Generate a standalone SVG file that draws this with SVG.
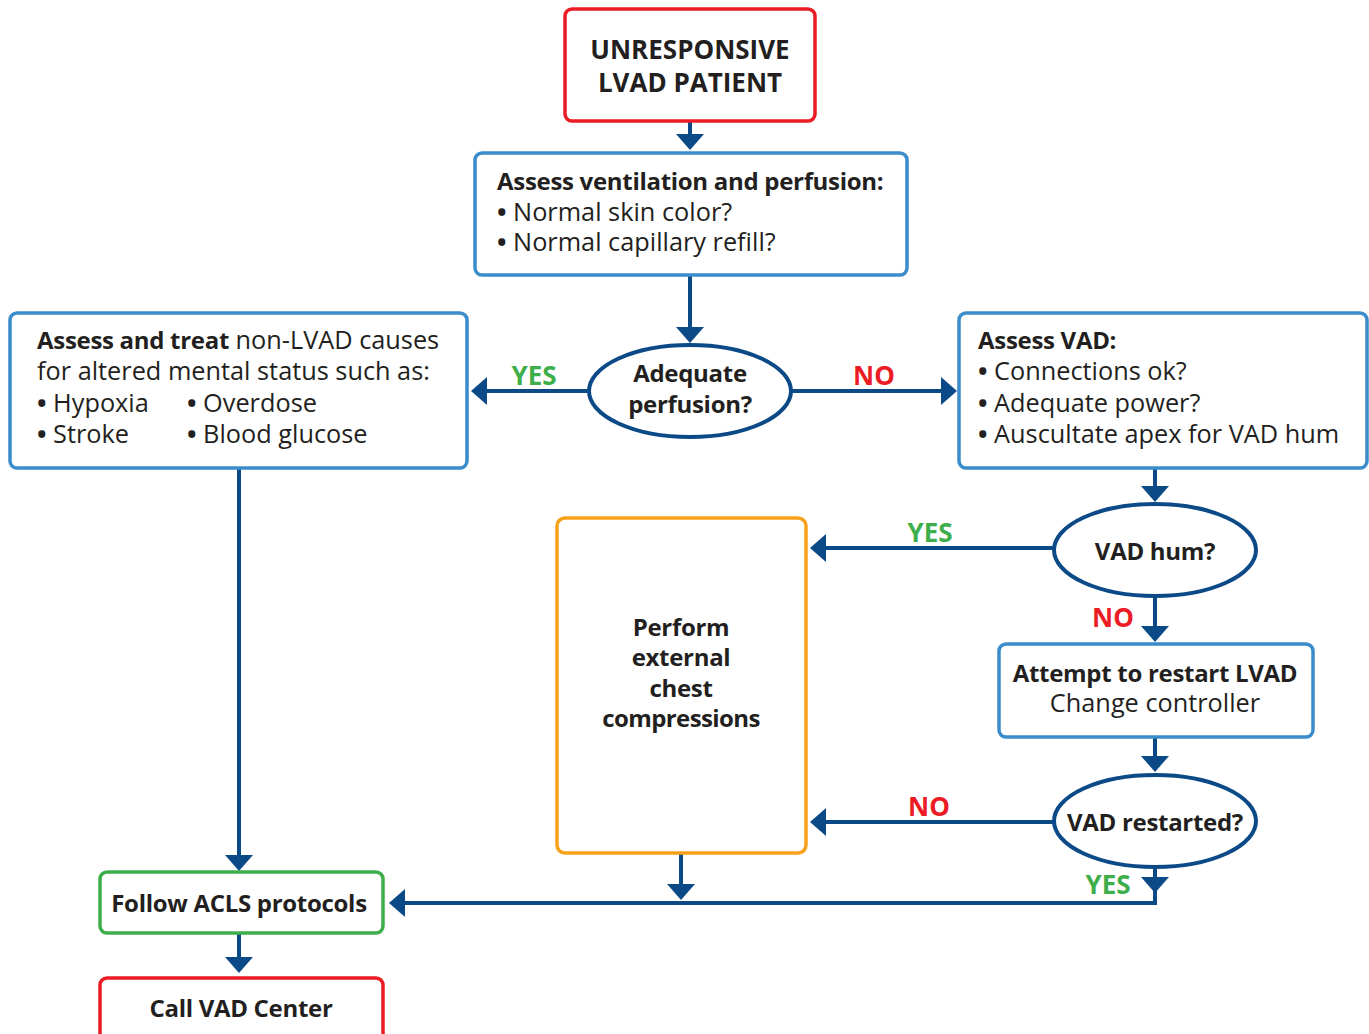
<svg xmlns="http://www.w3.org/2000/svg" width="1369" height="1034" viewBox="0 0 1369 1034">
<defs>
<marker id="arr" viewBox="0 0 16 28" refX="2" refY="14" markerWidth="16" markerHeight="28" markerUnits="userSpaceOnUse" orient="auto">
<path d="M0,0 L16,14 L0,28 z" fill="#0B4A87"/>
</marker>
<style>
text{font-family:"Open Sans","Noto Sans","Liberation Sans",sans-serif;fill:#231F20;font-size:25.3px}
.b{font-weight:bold;font-size:24px;letter-spacing:-0.3px}
.h{font-weight:bold;font-size:26px}
.c{text-anchor:middle}
.bu{font-weight:bold}
.box{fill:#fff;stroke-width:3.5}
.red{stroke:#EC1C24}
.blue{stroke:#3A8DCA}
.green{stroke:#3DAE4A}
.orange{stroke:#F7A11A}
.dec{fill:#fff;stroke:#0B4A87;stroke-width:4}
.con{fill:none;stroke:#0B4A87;stroke-width:4;marker-end:url(#arr)}
.yes{fill:#3DAE4A;font-weight:bold;font-size:26px;text-anchor:middle}
.no{fill:#EC1C24;font-weight:bold;font-size:26px;text-anchor:middle}
</style>
</defs>
<rect width="1369" height="1034" fill="#fff"/>

<g id="connectors">
<path class="con" d="M690,121 L690,136"/>
<path class="con" d="M690,275 L690,329"/>
<path class="con" d="M590,391 L485,391"/>
<path class="con" d="M790,391 L943,391"/>
<path class="con" d="M1155,468 L1155,488"/>
<path class="con" d="M1054,548 L824,548"/>
<path class="con" d="M1155,596 L1155,628"/>
<path class="con" d="M1155,737 L1155,758"/>
<path class="con" d="M1054,822 L824,822"/>
<path class="con" d="M1155,867 L1155,879"/>
<path class="con" d="M1155,879 L1155,903 L403,903"/>
<path class="con" d="M681,853 L681,886"/>
<path class="con" d="M239,468 L239,857"/>
<path class="con" d="M239,933 L239,959"/>
<text class="yes" x="534" y="385">YES</text>
<text class="no" x="874" y="385">NO</text>
<text class="yes" x="930" y="542">YES</text>
<text class="no" x="1113" y="627">NO</text>
<text class="no" x="929" y="816">NO</text>
<text class="yes" x="1108" y="894">YES</text>
</g>

<g id="start">
<rect class="box red" x="565" y="9" width="250" height="112" rx="7"/>
<text class="h c" x="690" y="59">UNRESPONSIVE</text>
<text class="h c" x="690" y="92">LVAD PATIENT</text>
</g>

<g id="assess-ventilation">
<rect class="box blue" x="475" y="153" width="432" height="122" rx="7"/>
<text class="b" x="497" y="190">Assess ventilation and perfusion:</text>
<text x="497" y="221"><tspan class="bu">•</tspan> Normal skin color?</text>
<text x="497" y="251"><tspan class="bu">•</tspan> Normal capillary refill?</text>
</g>

<g id="adequate-perfusion">
<ellipse class="dec" cx="690" cy="391" rx="101" ry="46"/>
<text class="b c" x="690" y="382">Adequate</text>
<text class="b c" x="690" y="413">perfusion?</text>
</g>

<g id="non-lvad">
<rect class="box blue" x="10" y="313" width="457" height="155" rx="7"/>
<text x="37" y="349"><tspan class="b">Assess and treat</tspan> non-LVAD causes</text>
<text x="37" y="380">for altered mental status such as:</text>
<text x="37" y="412"><tspan class="bu">•</tspan> Hypoxia</text>
<text x="187" y="412"><tspan class="bu">•</tspan> Overdose</text>
<text x="37" y="443"><tspan class="bu">•</tspan> Stroke</text>
<text x="187" y="443"><tspan class="bu">•</tspan> Blood glucose</text>
</g>

<g id="assess-vad">
<rect class="box blue" x="959" y="313" width="408" height="155" rx="7"/>
<text class="b" x="978" y="349">Assess VAD:</text>
<text x="978" y="380"><tspan class="bu">•</tspan> Connections ok?</text>
<text x="978" y="412"><tspan class="bu">•</tspan> Adequate power?</text>
<text x="978" y="443"><tspan class="bu">•</tspan> Auscultate apex for VAD hum</text>
</g>

<g id="vad-hum">
<ellipse class="dec" cx="1155" cy="550" rx="101" ry="46"/>
<text class="b c" x="1155" y="560">VAD hum?</text>
</g>

<g id="compressions">
<rect class="box orange" x="557" y="518" width="249" height="335" rx="8"/>
<text class="b c" x="681" y="636">Perform</text>
<text class="b c" x="681" y="666">external</text>
<text class="b c" x="681" y="697">chest</text>
<text class="b c" x="681" y="727" style="letter-spacing:-0.6px">compressions</text>
</g>

<g id="restart">
<rect class="box blue" x="999" y="644" width="314" height="93" rx="7"/>
<text class="b c" x="1155" y="682">Attempt to restart LVAD</text>
<text class="c" x="1155" y="712">Change controller</text>
</g>

<g id="vad-restarted">
<ellipse class="dec" cx="1155" cy="821" rx="101" ry="46"/>
<text class="b c" x="1155" y="831">VAD restarted?</text>
</g>

<g id="acls">
<rect class="box green" x="100" y="872" width="283" height="61" rx="7"/>
<text class="b c" x="239" y="912">Follow ACLS protocols</text>
</g>

<g id="call-center">
<rect class="box red" x="100" y="978" width="283" height="70" rx="7"/>
<text class="b c" x="241" y="1017">Call VAD Center</text>
</g>
</svg>
